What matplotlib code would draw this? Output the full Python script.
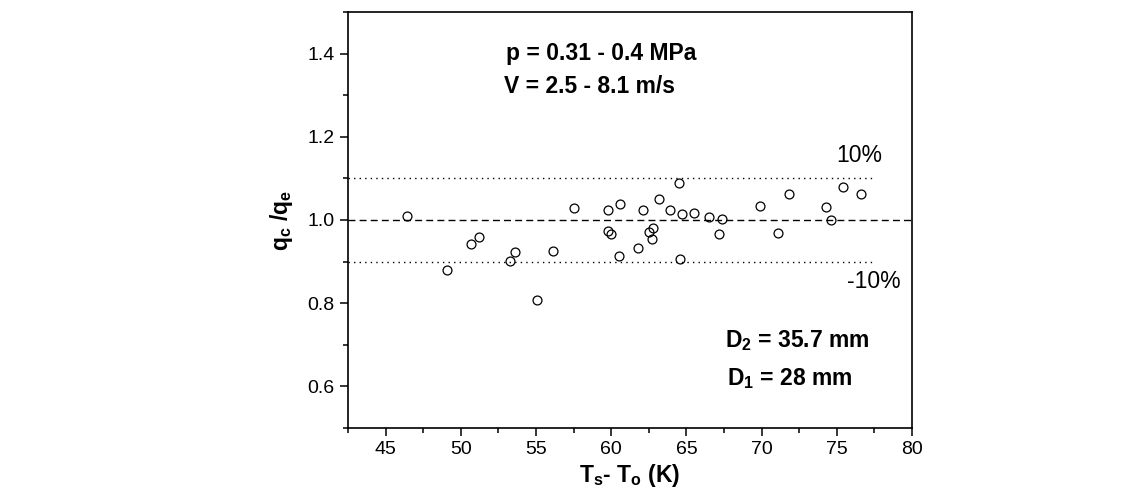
import matplotlib.pyplot as plt
from matplotlib.ticker import MultipleLocator

plt.rcParams['font.family'] = ['Liberation Sans', 'DejaVu Sans']
plt.rcParams['mathtext.fontset'] = 'custom'
plt.rcParams['mathtext.rm'] = 'Liberation Sans'
plt.rcParams['mathtext.bf'] = 'Liberation Sans:bold'
plt.rcParams['mathtext.it'] = 'Liberation Sans:italic'

# Data (temperature difference vs q_c/q_e)
dT = [46.4, 49.1, 50.7, 51.2, 53.3, 53.6, 55.1, 56.1, 57.5, 59.8,
      60.6, 59.8, 60.0, 60.5, 61.8, 62.1, 62.5, 62.8, 62.7, 63.2,
      63.9, 64.5, 64.7, 64.6, 65.5, 66.5, 67.4, 67.2, 69.9, 71.1,
      71.8, 74.3, 74.6, 75.4, 76.6]
ratio = [1.009, 0.880, 0.943, 0.958, 0.901, 0.923, 0.807, 0.925, 1.029, 1.025,
         1.039, 0.973, 0.967, 0.914, 0.932, 1.025, 0.971, 0.980, 0.954, 1.051,
         1.025, 1.090, 1.015, 0.906, 1.018, 1.007, 1.003, 0.967, 1.033, 0.969,
         1.062, 1.032, 1.000, 1.079, 1.062]

band_upper = 1.1
band_lower = 0.9
band_end = 77.5

fig = plt.figure(figsize=(11.45, 5.04), dpi=100)
ax = fig.add_axes([0.3039, 0.1508, 0.4926, 0.8254])

ax.plot(dT, ratio, 'o', mfc='none', mec='black', ms=6.4, mew=0.9)
ax.axhline(1.0, color='black', ls=(0, (5, 3)), lw=1.0)
ax.plot([42.5, band_end], [band_upper, band_upper], color='black', ls=(0, (1, 3)), lw=1.0)
ax.plot([42.5, band_end], [band_lower, band_lower], color='black', ls=(0, (1, 3)), lw=1.0)

ax.set_xlim(42.5, 80)
ax.set_ylim(0.5, 1.5)
ax.xaxis.set_major_locator(MultipleLocator(5))
ax.xaxis.set_minor_locator(MultipleLocator(2.5))
ax.set_yticks([0.6, 0.8, 1.0, 1.2, 1.4])
ax.yaxis.set_minor_locator(MultipleLocator(0.1))
ax.tick_params(which='both', direction='out', top=False, right=False, labelsize=14, width=1.1)
ax.tick_params(which='major', length=6)
ax.tick_params(which='minor', length=3.5)
for s in ax.spines.values():
    s.set_linewidth(1.2)

ax.set_xlabel(r'$\mathbf{T_s}$- $\mathbf{T_o}$ (K)', fontsize=16.5, fontweight='bold', labelpad=3)
ax.set_ylabel(r'$\mathbf{q_c}$ /$\mathbf{q_e}$', fontsize=16.5, fontweight='bold', labelpad=9)

ax.text(53.0, 1.40, 'p = 0.31 - 0.4 MPa', fontsize=16.5, fontweight='bold', va='center')
ax.text(52.9, 1.32, 'V = 2.5 - 8.1 m/s', fontsize=16.5, fontweight='bold', va='center')
ax.text(67.6, 0.71, r'D$_\mathbf{2}$ = 35.7 mm', fontsize=16.5, fontweight='bold', va='center')
ax.text(67.7, 0.62, r'D$_\mathbf{1}$ = 28 mm', fontsize=16.5, fontweight='bold', va='center')
ax.text(74.95, 1.155, '10%', fontsize=16.5, va='center')
ax.text(75.7, 0.853, '-10%', fontsize=16.5, va='center')

fig.savefig('out.png', dpi=100)
